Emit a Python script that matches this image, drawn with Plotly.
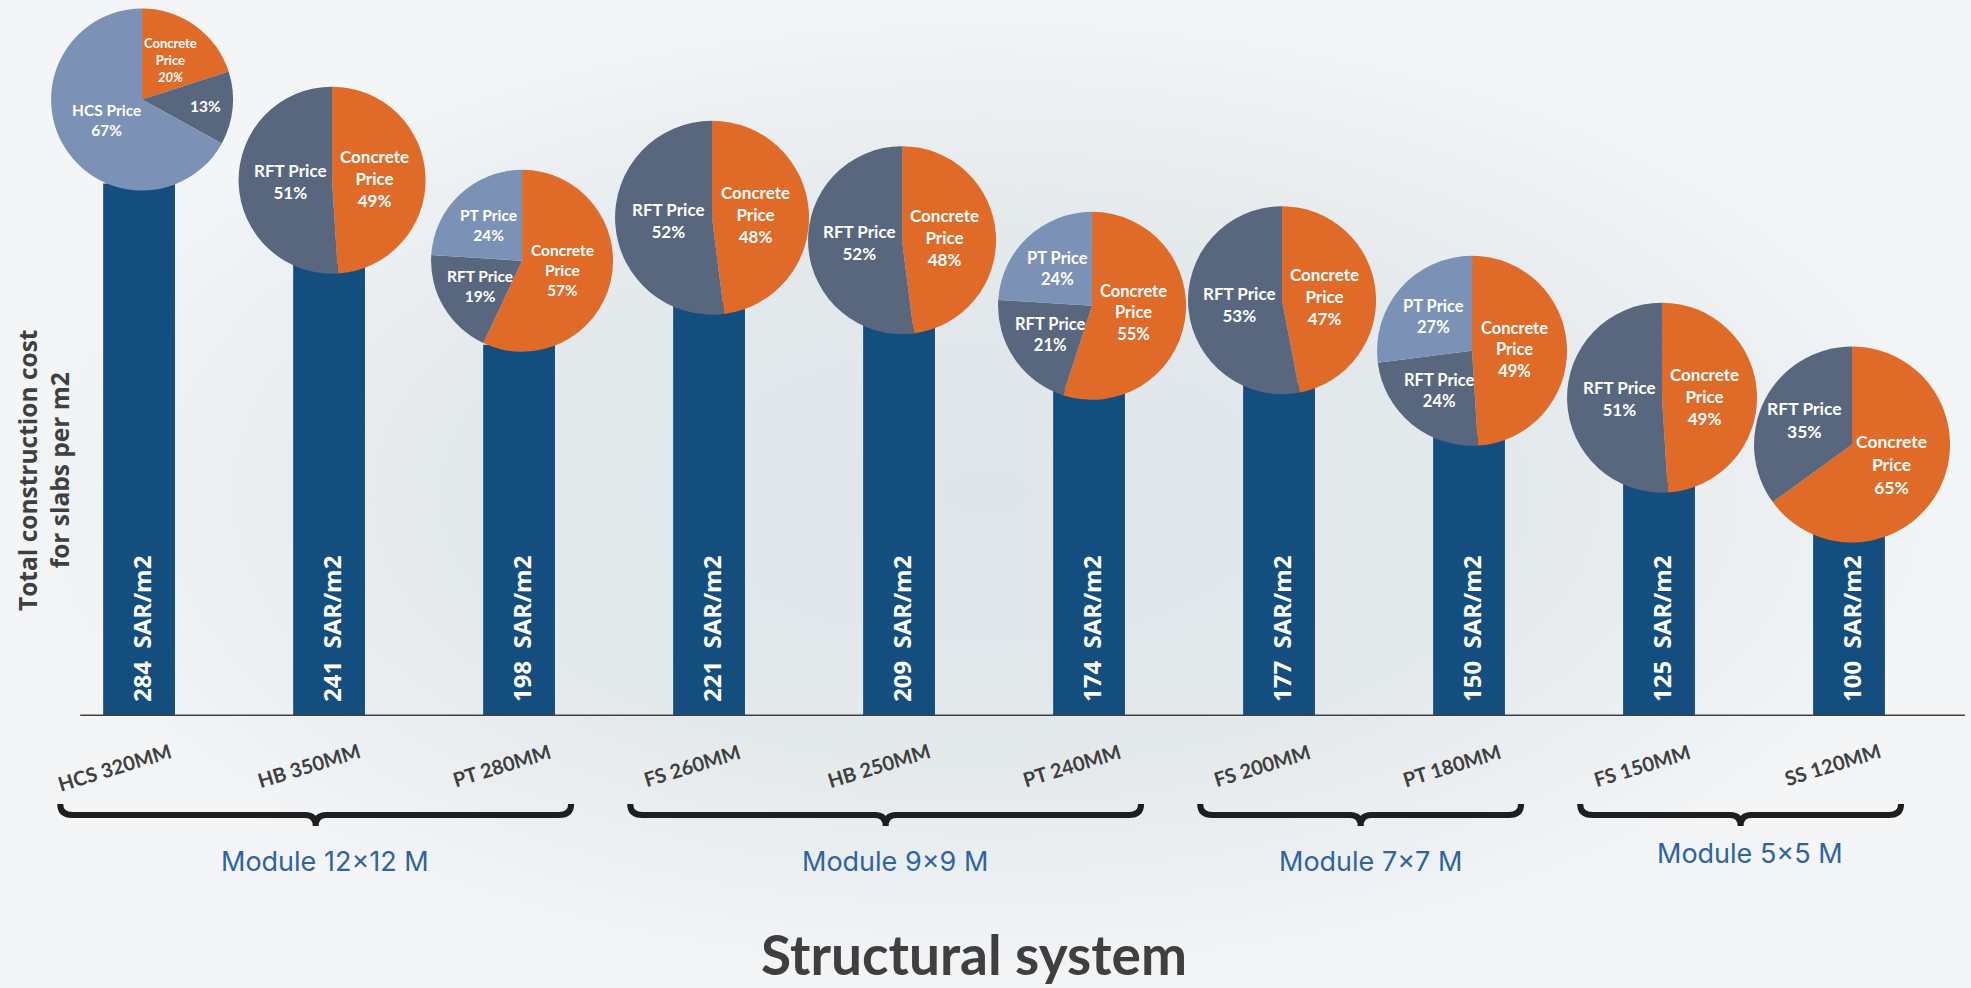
import math
import plotly.graph_objects as go

# ---------------- data ----------------
systems = ["HCS 320MM", "HB 350MM", "PT 280MM", "FS 260MM", "HB 250MM",
           "PT 240MM", "FS 200MM", "PT 180MM", "FS 150MM", "SS 120MM"]
cost_sar_m2 = [284, 241, 198, 221, 209, 174, 177, 150, 125, 100]

concrete_pct = [20, 49, 57, 48, 48, 55, 47, 49, 49, 65]
rft_pct = [13, 51, 19, 52, 52, 21, 53, 24, 51, 35]
third_pct = [67, None, 24, None, None, 24, None, 27, None, None]
third_name = ["HCS Price", None, "PT Price", None, None, "PT Price", None, "PT Price", None, None]

modules = ["Module 12×12 M", "Module 9×9 M", "Module 7×7 M", "Module 5×5 M"]
module_first = [0, 3, 6, 8]
module_last = [2, 5, 7, 9]

# ---------------- page geometry / styles ----------------
W, H = 1971, 988
PLOT_BOTTOM_PX = 716            # baseline of the bars
XRANGE = [-0.732, 9.642]
YRANGE = [0, 381.9]
PIE_RADIUS_PX = [91, 93.5, 91, 97, 94, 94, 94, 95, 95, 98]
PIE_FONT_PX = [15.5, 17, 15.5, 17, 17, 16.5, 17, 16.5, 17, 17.5]
PIE_LIFT_PX = 84                # pie centre sits this far above the bar top
PIE_DX_PX = 3

BAR_COLOR = "#144E7E"
CONCRETE_COLOR = "#E06A27"
RFT_COLOR = "#58677E"
LIGHT_COLOR = "#7B91B6"
TEXT_DARK = "#3F3F3F"
MODULE_BLUE = "#2E64A0"


def x_px(xv):
    return (xv - XRANGE[0]) / (XRANGE[1] - XRANGE[0]) * W


def y_px(yv):
    return PLOT_BOTTOM_PX - (yv - YRANGE[0]) / (YRANGE[1] - YRANGE[0]) * PLOT_BOTTOM_PX


def py(px):
    return 1 - px / H


def label_radius(pct):
    # how far out along the slice bisector the label sits (fraction of radius)
    if pct >= 40:
        return 0.45
    if pct >= 15:
        return 0.54
    return 0.70


fig = go.Figure()

# soft page backdrop on its own full-page axes
fig.add_trace(go.Scatter(
    x=[0, 1, 1, 0, 0], y=[0, 0, 1, 1, 0], xaxis="x", yaxis="y",
    mode="lines", line=dict(width=0), fill="toself",
    fillgradient=dict(type="radial",
                      colorscale=[[0, "#DFE5E9"], [0.55, "#E4E9EC"], [1, "#F3F5F7"]]),
    hoverinfo="skip", showlegend=False,
))

fig.add_trace(go.Bar(
    x=list(range(len(systems))), y=cost_sar_m2, xaxis="x2", yaxis="y2",
    marker=dict(color=BAR_COLOR, line=dict(width=0)),
    width=0.378, hoverinfo="skip", showlegend=False,
))

annotations = []

# value labels written up the bars
for i, v in enumerate(cost_sar_m2):
    annotations.append(dict(
        x=i, y=0, xref="x2", yref="y2", text=f"{v}\u00a0\u00a0SAR/m2",
        textangle=-90, showarrow=False, xanchor="center", yanchor="bottom",
        yshift=12, xshift=2,
        font=dict(family="Open Sans", size=24, color="white", weight="bold"),
    ))

# cost breakdown pies on top of every bar
for i, v in enumerate(cost_sar_m2):
    names = ["Concrete<br>Price", "RFT Price"]
    values = [concrete_pct[i], rft_pct[i]]
    colors = [CONCRETE_COLOR, RFT_COLOR]
    if third_pct[i] is not None:
        names.append(third_name[i])
        values.append(third_pct[i])
        colors.append(LIGHT_COLOR)

    r = PIE_RADIUS_PX[i]
    cx = x_px(i) + PIE_DX_PX
    cy = y_px(v) - PIE_LIFT_PX
    fig.add_trace(go.Pie(
        labels=names, values=values, sort=False, direction="clockwise",
        rotation=0, marker=dict(colors=colors, line=dict(width=0)),
        textinfo="none",
        domain=dict(x=[(cx - r) / W, (cx + r) / W], y=[py(cy + r), py(cy - r)]),
        hoverinfo="skip", showlegend=False,
    ))

    # slice captions placed along each slice bisector
    total = sum(values)
    start = 0.0
    for j, (name, val) in enumerate(zip(names, values)):
        mid = (start + val / 2) / total * 2 * math.pi
        start += val
        f = label_radius(val)
        tx = cx + f * r * math.sin(mid)
        ty = cy - f * r * math.cos(mid)
        size = PIE_FONT_PX[i]
        text = f"{name}<br>{val}%"
        if i == 0 and j == 0:
            text, size = f"{name}<br><i>{val}%</i>", 13
        elif i == 0 and j == 1:
            text = f"{val}%"
        annotations.append(dict(
            x=tx / W, y=py(ty), xref="paper", yref="paper", text=text,
            showarrow=False, xanchor="center", yanchor="middle",
            font=dict(family="Lato", size=size, color="white", weight="bold"),
        ))

# category labels
for i, name in enumerate(systems):
    annotations.append(dict(
        x=i, y=0, xref="x2", yref="y2", text=name, textangle=-17,
        showarrow=False, xanchor="right", yanchor="top", xshift=37, yshift=-20,
        font=dict(family="Lato", size=20, color=TEXT_DARK, weight="bold"),
    ))

# braces grouping the systems by module, with their captions
shapes = []
top_y, mid_y, tip_y = py(804), py(815), py(826)
cr, tw = 0.065, 0.055
for k, name in enumerate(modules):
    xl = module_first[k] - 0.415
    xr = module_last[k] + 0.274
    xc = (xl + xr) / 2
    path = (f"M {xl},{top_y} Q {xl},{mid_y} {xl + cr},{mid_y} "
            f"L {xc - tw},{mid_y} Q {xc},{mid_y} {xc},{tip_y} "
            f"Q {xc},{mid_y} {xc + tw},{mid_y} "
            f"L {xr - cr},{mid_y} Q {xr},{mid_y} {xr},{top_y}")
    shapes.append(dict(type="path", xref="x2", yref="paper", path=path,
                       line=dict(color="#1E1E1E", width=6)))
    annotations.append(dict(
        x=xc + 0.05, y=py(861 if k < 3 else 853), xref="x2", yref="paper", text=name,
        showarrow=False, xanchor="center", yanchor="middle",
        font=dict(family="Inter", size=27, color=MODULE_BLUE),
    ))

# baseline
shapes.append(dict(type="line", xref="x2", yref="y2", x0=-0.31, x1=9.61, y0=0, y1=0,
                   line=dict(color="#404040", width=3)))

# axis titles
annotations.append(dict(
    x=44 / W, y=py(471), xref="paper", yref="paper",
    text="Total construction cost<br>for slabs per m2", textangle=-90,
    showarrow=False, xanchor="center", yanchor="middle",
    font=dict(family="Open Sans", size=24.5, color=TEXT_DARK, weight="bold"),
))
annotations.append(dict(
    x=974 / W, y=py(954), xref="paper", yref="paper", text="Structural system",
    showarrow=False, xanchor="center", yanchor="middle",
    font=dict(family="Lato", size=55, color=TEXT_DARK, weight="bold"),
))

fig.update_layout(
    width=W, height=H, margin=dict(l=0, r=0, t=0, b=0),
    paper_bgcolor="#E4E9EC", plot_bgcolor="rgba(0,0,0,0)",
    shapes=shapes, annotations=annotations,
    xaxis=dict(range=[0, 1], domain=[0, 1], visible=False, fixedrange=True),
    yaxis=dict(range=[0, 1], domain=[0, 1], visible=False, fixedrange=True),
    xaxis2=dict(range=XRANGE, domain=[0, 1], anchor="y2", visible=False, fixedrange=True),
    yaxis2=dict(range=YRANGE, domain=[1 - PLOT_BOTTOM_PX / H, 1], anchor="x2",
                visible=False, fixedrange=True),
)

fig.write_html("out.html")
